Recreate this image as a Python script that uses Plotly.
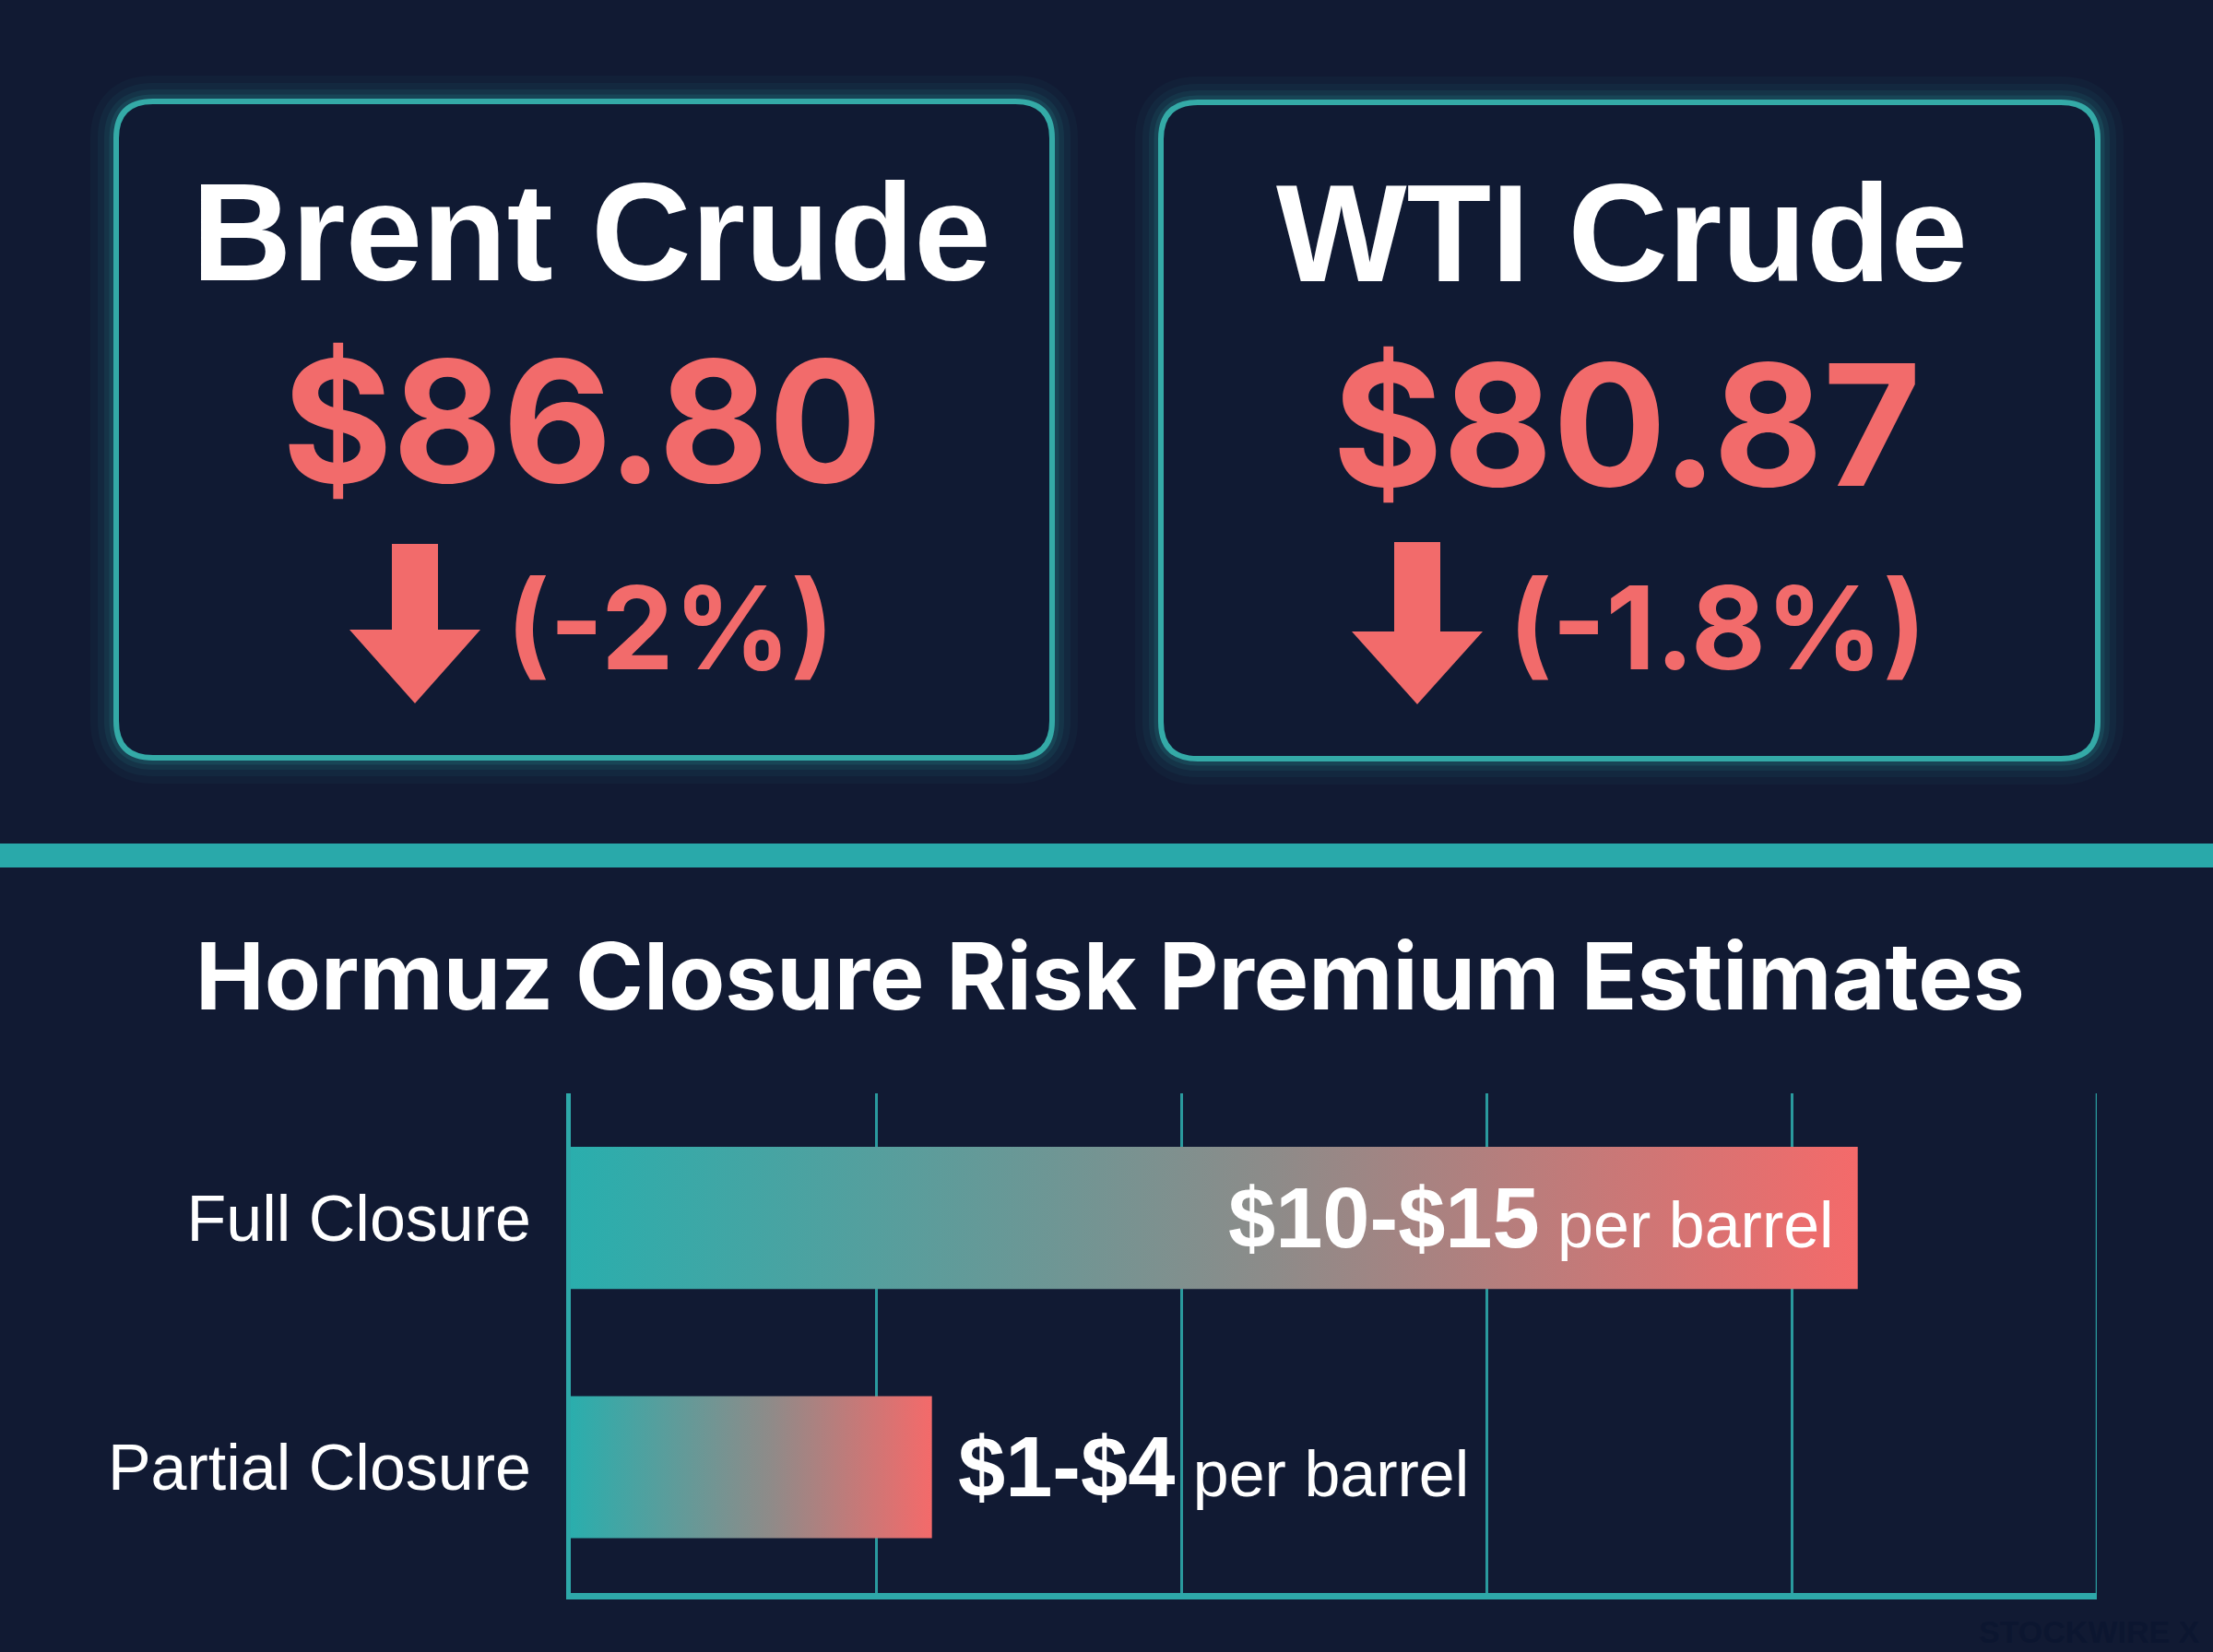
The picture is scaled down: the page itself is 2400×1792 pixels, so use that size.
import plotly.graph_objects as go

# ---- data ----
crude_names = ["Brent Crude", "WTI Crude"]
crude_prices = [86.80, 80.87]
crude_changes = [-2.0, -1.8]

scenarios = ["Partial Closure", "Full Closure"]
premium_ranges = ["$1-$4", "$10-$15"]
premium_bar = [3.55, 12.65]   # bar length on the hidden x scale
unit_text = "per barrel"

W, H = 2400, 1792
BG = "#111a33"
TEAL = "#2ca9a8"
CORAL = "#f26b6b"
GRAD = [[0, "#2aaead"], [0.55, "#8e8b89"], [1, "#f46a6a"]]
X_MAX = 15


def X(px):
    return px / W


def Y(py):
    return 1 - py / H


def rrect(x0, y0, x1, y1, r):
    return (f"M {X(x0 + r)},{Y(y0)} L {X(x1 - r)},{Y(y0)} Q {X(x1)},{Y(y0)} {X(x1)},{Y(y0 + r)} "
            f"L {X(x1)},{Y(y1 - r)} Q {X(x1)},{Y(y1)} {X(x1 - r)},{Y(y1)} "
            f"L {X(x0 + r)},{Y(y1)} Q {X(x0)},{Y(y1)} {X(x0)},{Y(y1 - r)} "
            f"L {X(x0)},{Y(y0 + r)} Q {X(x0)},{Y(y0)} {X(x0 + r)},{Y(y0)} Z")


def arrow(cx, top, base, tip, sw=25, hw=71):
    pts = [(cx - sw, top), (cx + sw, top), (cx + sw, base), (cx + hw, base),
           (cx, tip), (cx - hw, base), (cx - sw, base)]
    return "M " + " L ".join(f"{X(a)},{Y(b)}" for a, b in pts) + " Z"


fig = go.Figure()

# gradient bars
half = 0.285
for i, (name, v) in enumerate(zip(scenarios, premium_bar)):
    fig.add_trace(go.Scatter(
        x=[0, v, v, 0, 0],
        y=[i - half, i - half, i + half, i + half, i - half],
        mode="lines", line=dict(width=0),
        fill="toself",
        fillgradient=dict(type="horizontal", colorscale=GRAD),
        hoverinfo="skip", showlegend=False, name=name,
    ))

shapes = []
annotations = []

# cards
boxes = [(126, 110, 1141, 822), (1259, 111, 2275, 823)]
arrows = [(450, 590, 683, 763), (1537, 588, 685, 764)]
name_pos = [(641, 252), (1759, 253)]
price_pos = [(632, 457), (1764, 460)]
chg_pos = [(727, 680), (1862, 680)]

for b in boxes:
    for lw, op in [(56, 0.04), (40, 0.06), (26, 0.09), (15, 0.15)]:
        shapes.append(dict(type="path", path=rrect(*b, 40), xref="paper", yref="paper",
                           line=dict(color=TEAL, width=lw), opacity=op, layer="below"))
    shapes.append(dict(type="path", path=rrect(*b, 40), xref="paper", yref="paper",
                       line=dict(color="#34aaa7", width=6), fillcolor="#101a33", layer="below"))

for a in arrows:
    shapes.append(dict(type="path", path=arrow(*a), xref="paper", yref="paper",
                       fillcolor=CORAL, line=dict(width=0)))

for i in range(2):
    annotations.append(dict(x=X(name_pos[i][0]), y=Y(name_pos[i][1]), xref="paper", yref="paper",
                            text=f"<b>{crude_names[i]}</b>", showarrow=False,
                            xanchor="center", yanchor="middle",
                            font=dict(family="Liberation Sans", size=150, color="white")))
    annotations.append(dict(x=X(price_pos[i][0]), y=Y(price_pos[i][1]), xref="paper", yref="paper",
                            text=f"<b>${crude_prices[i]:.2f}</b>", showarrow=False,
                            xanchor="center", yanchor="middle",
                            font=dict(family="Inter", size=183, color=CORAL)))
    annotations.append(dict(x=X(chg_pos[i][0]), y=Y(chg_pos[i][1]), xref="paper", yref="paper",
                            text=f"<b>({crude_changes[i]:g}%)</b>", showarrow=False,
                            xanchor="center", yanchor="middle",
                            font=dict(family="Inter", size=125, color=CORAL)))

# divider
shapes.append(dict(type="rect", xref="paper", yref="paper", x0=0, x1=1, y0=Y(941), y1=Y(915),
                   fillcolor="#29a9aa", line=dict(width=0)))

# right-most grid line (at the range edge)
shapes.append(dict(type="line", xref="x", yref="y domain", x0=X_MAX, x1=X_MAX, y0=0, y1=1,
                   line=dict(color="#2a9a9e", width=2.5), layer="below"))

# title
annotations.append(dict(x=X(1204), y=Y(1058), xref="paper", yref="paper",
                        text="<b>Hormuz Closure Risk Premium Estimates</b>", showarrow=False,
                        xanchor="center", yanchor="middle",
                        font=dict(family="Inter", size=100, color="white")))

# bar value labels
for i, v in enumerate(premium_bar):
    inside = i == 1
    annotations.append(dict(
        x=v, y=i, xref="x", yref="y", showarrow=False,
        xanchor="right" if inside else "left", yanchor="middle",
        xshift=-24 if inside else 26,
        text=f"<b>{premium_ranges[i]}</b><span style='font-size:70px'> {unit_text}</span>",
        font=dict(family="Liberation Sans", size=92, color="white"),
    ))

# watermark
annotations.append(dict(x=X(2388), y=Y(1770), xref="paper", yref="paper",
                        text="<b>STOCKWIRE X</b>", showarrow=False,
                        xanchor="right", yanchor="middle",
                        font=dict(family="Liberation Sans", size=34, color="#0c1630")))

fig.update_layout(
    width=W, height=H,
    margin=dict(l=0, r=0, t=0, b=0),
    paper_bgcolor=BG, plot_bgcolor="rgba(0,0,0,0)",
    shapes=shapes, annotations=annotations,
    xaxis=dict(domain=[X(619), X(2274)], range=[0, X_MAX], dtick=3,
               showgrid=True, gridcolor="#2a9a9e", gridwidth=2.5,
               showticklabels=False, zeroline=False,
               showline=True, linecolor="#2ea8a9", linewidth=7),
    yaxis=dict(domain=[Y(1728), Y(1186)], range=[-0.505, 1.5],
               tickvals=[0, 1], ticktext=scenarios, showgrid=False, zeroline=False,
               showline=True, linecolor="#2ea8a9", linewidth=5,
               ticklabelstandoff=24,
               tickfont=dict(family="Liberation Sans", size=70, color="white")),
)

fig.write_html("out.html", config={"displayModeBar": False},
               post_script="document.body.style.margin='0';document.body.style.overflow='hidden';")
